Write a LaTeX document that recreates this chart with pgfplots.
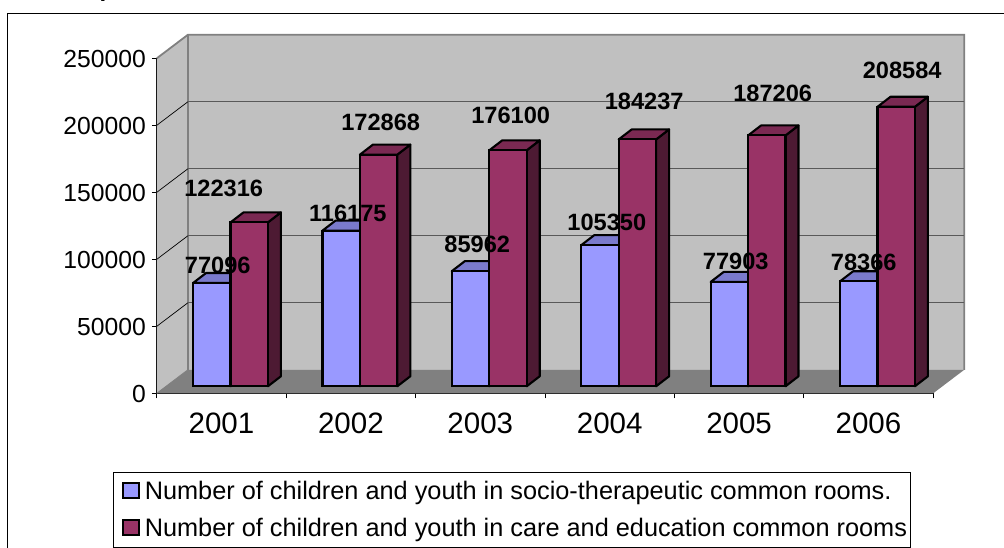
\documentclass[border=0pt]{standalone}
\usepackage{pgfplots}
\pgfplotsset{compat=1.18}
\usepackage{pgfplotstable}
\usepackage{fontspec}
\setmainfont{Liberation Sans}
\definecolor{wall}{HTML}{C0C0C0}
\definecolor{floorc}{HTML}{808080}
\definecolor{bluef}{HTML}{9999FF}
\definecolor{bluet}{HTML}{7A7ACC}
\definecolor{redf}{HTML}{993366}
\definecolor{redt}{HTML}{7A2952}
\definecolor{reds}{HTML}{4D1A33}
\pgfplotstableread{
x blue red bdx bdy rdx rdy
0 77096 122316 -12.7 18 -6.8 34
1 116175 172868 -12.1 17.6 20.8 32.7
2 85962 176100 -12 27.1 21.4 35.3
3 105350 184237 -11.9 23.1 25.5 38.4
4 77903 187206 -12.3 20.9 24.6 42.4
5 78366 208584 -13.7 19.3 24.7 36.8
}\datatab
\newcommand{\barw}{0.28903}
\newcommand{\faces}[4]{% x-shift(cat), value, side colour, top colour
  \pgfmathsetmacro{\xa}{#1}
  \pgfmathsetmacro{\xb}{#1+\barw}
  \pgfmathsetmacro{\xc}{#1+\barw+0.1005}
  \pgfmathsetmacro{\xd}{#1+0.1005}
  \begingroup\pgfkeys{/pgf/fpu,/pgf/fpu/output format=fixed}\pgfmathparse{#2+7463}\xdef\yb{\pgfmathresult}\endgroup
  \addplot[forget plot,draw=black,line width=2.1pt,line join=round,fill=#3] coordinates {(\xb,0) (\xc,7463) (\xc,\yb) (\xb,#2)} -- cycle;
  \addplot[forget plot,draw=black,line width=2.1pt,line join=round,fill=#4] coordinates {(\xa,#2) (\xb,#2) (\xc,\yb) (\xd,\yb)} -- cycle;
}
\newcommand{\barset}[4]{% column, x offset, colours
  \pgfplotsforeachungrouped \i in {0,...,5}{%
    \pgfplotstablegetelem{\i}{#1}\of\datatab
    \pgfmathsetmacro{\cx}{\i+#2}
    \edef\tmp{\noexpand\faces{\cx}{\pgfplotsretval}{#3}{#4}}%
    \tmp
  }%
}
\begin{document}
\begin{tikzpicture}[x=1pt,y=1pt]
\path[use as bounding box] (0,0) rectangle (1004,548);
\draw[black,line width=1pt] (7.5,-2) -- (7.5,534) -- (1006,534);
\node[font=\bfseries\fontsize{24}{24}\selectfont,anchor=base west,inner sep=0pt] at (99.5,551) {p};
% walls, floor, ticks and labels
\begin{axis}[
  at={(156.8pt,154.7pt)},anchor=south west,
  scale only axis,width=776.4pt,height=335pt,
  xmin=0,xmax=6,ymin=0,ymax=250000,clip=false,
  axis x line*=bottom,axis y line*=left,
  axis line style={-,black,line width=0.8pt},
  tick style={black,line width=0.7pt},
  tick align=outside,major tick length=5pt,
  xtick={0,...,6},x tick label as interval=true,
  xticklabels={2001,2002,2003,2004,2005,2006},
  ytick={0,50000,...,250000},
  scaled y ticks=false,
  /pgf/number format/assume math mode=true,
  yticklabel style={/pgf/number format/fixed,/pgf/number format/1000 sep={},font=\fontsize{24.7}{24.7}\selectfont,xshift=-2.5pt,yshift=-1pt},
  xticklabel style={font=\fontsize{29.5}{29.5}\selectfont,yshift=-11pt},
]
\addplot[forget plot,fill=wall,draw=none] coordinates {(0,0) (0,250000) (0.24,267540) (0.24,17540)} -- cycle;
\addplot[forget plot,fill=wall,draw=none] coordinates {(0.24,17540) (6.24,17540) (6.24,267540) (0.24,267540)} -- cycle;
\addplot[forget plot,fill=floorc,draw=none] coordinates {(0,0) (6,0) (6.24,17540) (0.24,17540)} -- cycle;
\addplot[forget plot,draw=floorc,line width=1.8pt] coordinates {(0,250000) (0.24,267540) (6.24,267540) (6.24,17540)};
\addplot[forget plot,draw=floorc,line width=1.8pt] coordinates {(0.24,267540) (0.24,17540)};
\addplot[forget plot,draw=floorc,line width=0.8pt] coordinates {(0,0) (0.24,17540)};
\addplot[forget plot,draw=black,line width=0.7pt] coordinates {(0,50000) (0.24,67540)};
\addplot[forget plot,draw=black,line width=0.7pt] coordinates {(0,100000) (0.24,117540)};
\addplot[forget plot,draw=black,line width=0.7pt] coordinates {(0,150000) (0.24,167540)};
\addplot[forget plot,draw=black,line width=0.7pt] coordinates {(0,200000) (0.24,217540)};
\addplot[forget plot,draw=black!65,line width=0.9pt] coordinates {(0.24,67540) (6.24,67540)};
\addplot[forget plot,draw=black!65,line width=0.9pt] coordinates {(0.24,117540) (6.24,117540)};
\addplot[forget plot,draw=black!65,line width=0.9pt] coordinates {(0.24,167540) (6.24,167540)};
\addplot[forget plot,draw=black!65,line width=0.9pt] coordinates {(0.24,217540) (6.24,217540)};
\end{axis}
% bars
\begin{axis}[
  at={(165.8pt,161.7pt)},anchor=south west,
  scale only axis,width=776.4pt,height=335pt,
  xmin=-0.5,xmax=5.5,ymin=0,ymax=250000,clip=false,
  hide axis,
  legend style={at={(-0.0675,-0.2555)},anchor=north west,draw=black,line width=0.7pt,
    font=\fontsize{25.3}{25.3}\selectfont,
    inner xsep=2pt,inner ysep=7pt,row sep=13.5pt,
    nodes={inner xsep=1pt},
    /tikz/every even column/.append style={column sep=0pt}},
  legend cell align=left,
  legend image code/.code={\path (-5pt,0pt) (21pt,0pt);\draw[#1,line width=2pt] (1.5pt,-7pt) rectangle (17pt,8.5pt);},
  /pgf/number format/assume math mode=true,
  nodes near coords style={font=\bfseries\fontsize{23.6}{23.6}\selectfont,anchor=center,black,
    /pgf/number format/fixed,/pgf/number format/precision=0,/pgf/number format/1000 sep={},
    xshift=\ldx pt,yshift=\ldy pt},
]
\barset{blue}{-0.28903}{bluet}{bluet}
\addplot[ybar,bar width=37.4pt,bar shift=-18.7pt,fill=bluef,draw=black,line width=2.1pt,
  nodes near coords,visualization depends on={\thisrow{bdx} \as \ldx},visualization depends on={\thisrow{bdy} \as \ldy}]
  table[x=x,y=blue]{\datatab};
\addlegendentry{Number of children and youth in socio-therapeutic common rooms.}
\barset{red}{0}{reds}{redt}
\addplot[ybar,bar width=37.4pt,bar shift=18.7pt,fill=redf,draw=black,line width=2.1pt,
  nodes near coords,visualization depends on={\thisrow{rdx} \as \ldx},visualization depends on={\thisrow{rdy} \as \ldy}]
  table[x=x,y=red]{\datatab};
\addlegendentry{Number of children and youth in care and education common rooms}
\end{axis}
\end{tikzpicture}
\end{document}
